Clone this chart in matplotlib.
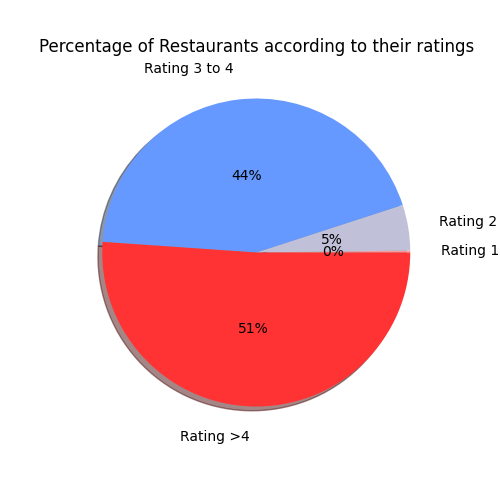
import matplotlib
matplotlib.use("Agg")
import matplotlib.pyplot as plt

labels = ['Rating 1', 'Rating 2', 'Rating 3 to 4', 'Rating >4']
counts = [2, 48, 439, 511]
colors = ['#ff9999', '#c0c0d8', '#6699ff', '#ff3333']

fig, ax = plt.subplots(figsize=(5, 5), dpi=100)
ax.pie(counts, labels=labels, colors=colors, autopct='%1.0f%%', shadow=True,
       pctdistance=0.5, labeldistance=1.2)
ax.set_title('Percentage of Restaurants according to their ratings')
fig.savefig('out.png')
